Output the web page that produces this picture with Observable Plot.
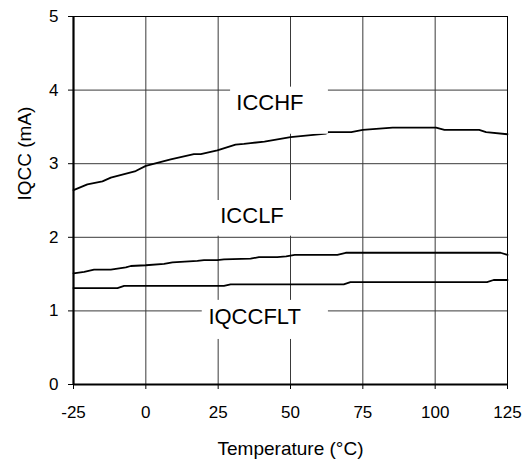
<!DOCTYPE html>
<html>
<head>
<meta charset="utf-8">
<script src="https://cdn.jsdelivr.net/npm/d3@7"></script>
<script src="https://cdn.jsdelivr.net/npm/@observablehq/plot@0.6"></script>
<style>
  html, body { margin: 0; padding: 0; background: #fff; }
  #chart svg { display: block; }
</style>
</head>
<body>
<div id="chart"></div>
<script>
// Axis ticks
const xTicks = [-25, 0, 25, 50, 75, 100, 125];
const yTicks = [0, 1, 2, 3, 4, 5];
const xLabel = "Temperature (°C)";
const yLabel = "IQCC (mA)";

// ICCHF series
const tHF = [-25, -20.2, -15, -12.1, -3.5, 0, 8.6, 16.6, 19, 24.7, 31, 33.9, 36.2, 41, 50, 62.3, 63.1, 71, 75, 85.3, 100.3, 103.2, 115.2, 117.6, 125];
const iHF = [2.64, 2.72, 2.76, 2.81, 2.90, 2.97, 3.06, 3.13, 3.13, 3.18, 3.26, 3.27, 3.28, 3.30, 3.36, 3.41, 3.43, 3.43, 3.46, 3.49, 3.49, 3.46, 3.46, 3.43, 3.40];

// ICCLF series
const tLF = [-25, -21.3, -17.9, -12.1, -6.9, -5.2, 0, 6.3, 9.2, 17.8, 20.1, 24.7, 27, 36.2, 39.1, 45.4, 48.5, 51.5, 66.2, 69.1, 122.6, 125];
const iLF = [1.51, 1.53, 1.56, 1.56, 1.59, 1.61, 1.62, 1.64, 1.66, 1.68, 1.69, 1.69, 1.70, 1.71, 1.73, 1.73, 1.74, 1.76, 1.76, 1.79, 1.79, 1.76];

// IQCCFLT series
const tFLT = [-25, -9.8, -7.5, 27, 29.3, 68.4, 70.7, 117.9, 120.2, 125];
const iFLT = [1.31, 1.31, 1.34, 1.34, 1.36, 1.36, 1.39, 1.39, 1.42, 1.42];

// Annotation labels (data units) and their white boxes
const labelNames = ["ICCHF", "ICCLF", "IQCCFLT"];
const labelT = [42.9, 36.7, 37.6];
const labelV = [3.82, 2.29, 0.915];
const boxT1 = [29.3, 19, 19.5];
const boxT2 = [63.1, 55, 63.1];
const boxV1 = [3.40, 2.015, 0.612];
const boxV2 = [4.04, 2.50, 1.143];

const series = [
  {name: "ICCHF", t: tHF, v: iHF},
  {name: "ICCLF", t: tLF, v: iLF},
  {name: "IQCCFLT", t: tFLT, v: iFLT}
];
const rows = series.flatMap(s => s.t.map((t, i) => ({series: s.name, t, v: s.v[i]})));
const labels = labelNames.map((n, i) => ({n, t: labelT[i], v: labelV[i], t1: boxT1[i], t2: boxT2[i], v1: boxV1[i], v2: boxV2[i]}));

const FONT = "'Liberation Sans', Arial, Helvetica, sans-serif";

const chart = Plot.plot({
  width: 529,
  height: 466,
  marginLeft: 73,
  marginRight: 22,
  marginTop: 16,
  marginBottom: 82,
  style: {fontFamily: FONT, fontSize: "17px", background: "#fff", color: "#000"},
  x: {domain: [xTicks[0], xTicks[xTicks.length - 1]]},
  y: {domain: [yTicks[0], yTicks[yTicks.length - 1]]},
  marks: [
    Plot.gridX(xTicks, {stroke: "#3a3a3a", strokeOpacity: 1, strokeWidth: 1}),
    Plot.gridY(yTicks, {stroke: "#3a3a3a", strokeOpacity: 1, strokeWidth: 1}),
    Plot.line(rows, {x: "t", y: "v", z: "series", stroke: "#000", strokeWidth: 1.8, curve: "linear"}),
    Plot.rect(labels, {x1: "t1", x2: "t2", y1: "v1", y2: "v2", fill: "#fff", inset: 0}),
    Plot.text(labels, {x: "t", y: "v", text: "n", fontSize: 22, fill: "#000", textAnchor: "middle", lineAnchor: "middle"}),
    Plot.frame({stroke: "#000", strokeWidth: 1}),
    Plot.ruleX([xTicks[0]], {stroke: "#000", strokeWidth: 2.2}),
    Plot.ruleY([yTicks[0]], {stroke: "#000", strokeWidth: 2.2}),
    Plot.axisX(xTicks, {tickSize: 5, tickPadding: 16, fontSize: 17, label: null, tickFormat: d => String(d), stroke: "#000"}),
    Plot.axisY(yTicks, {tickSize: 5, tickPadding: 10, fontSize: 17, label: null, tickFormat: d => String(d), stroke: "#000"}),
    Plot.text([xLabel], {frameAnchor: "bottom", dy: 64, text: d => d, fontSize: 19, fill: "#000", lineAnchor: "middle"}),
    Plot.text([yLabel], {frameAnchor: "left", dx: -49, rotate: -90, text: d => d, fontSize: 19, fill: "#000", lineAnchor: "middle"})
  ]
});
document.getElementById("chart").appendChild(chart);
</script>
</body>
</html>
